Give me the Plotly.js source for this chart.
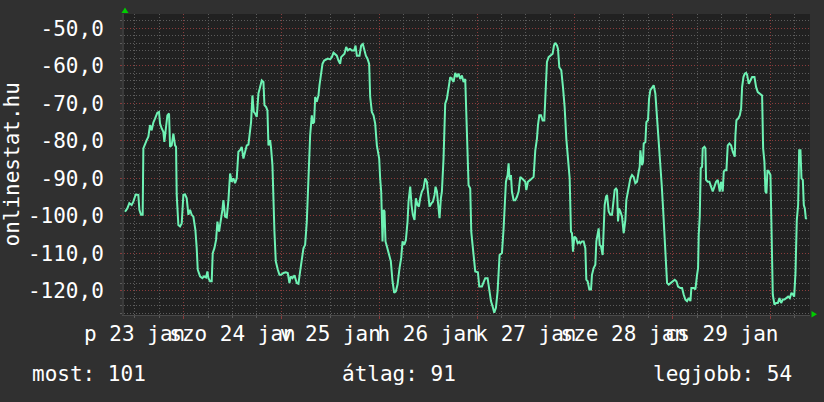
<!DOCTYPE html>
<html>
<head>
<meta charset="utf-8">
<script src="https://cdn.plot.ly/plotly-3.0.1.min.js"></script>
<style>
  html, body { margin: 0; padding: 0; background: #303030; }
  #chart { width: 824px; height: 402px; }
</style>
</head>
<body>
<div id="chart"></div>
<script>
// Time in hours since 23 Jan 00:00
const hours = [
  9.64,10.21,10.70,11.27,11.68,12.26,12.91,13.16,13.56,13.97,14.14,14.55,14.96,15.37,15.77,16.18,16.59,17.00,17.58,17.98,18.23,18.64,19.05,19.29,19.62,20.03,20.44,20.69,21.09,21.50,21.91,22.16,22.32,22.73,23.14,23.55,23.96,24.37,24.78,25.19,25.59,26.00,26.41,26.90,27.23,27.48,28.05,28.62,29.03,29.52,29.85,30.10,30.51,30.91,31.16,31.57,31.98,32.31,32.71,33.20,33.53,33.78,34.19,34.60,35.01,35.42,35.82,36.23,
  36.64,37.05,37.46,37.87,38.28,38.69,39.10,39.51,39.92,40.33,40.57,40.90,41.23,41.55,41.96,42.37,42.78,43.19,43.60,43.85,44.26,44.58,44.83,45.24,45.48,45.81,46.30,46.63,47.12,47.53,47.94,48.51,49.08,49.57,49.98,50.31,50.72,51.21,51.78,52.19,52.60,53.01,53.42,53.83,54.24,54.65,55.06,55.47,55.71,56.04,56.29,56.69,57.10,57.35,57.76,58.09,58.50,58.90,59.40,59.97,60.38,60.79,61.20,61.60,62.01,62.42,62.67,63.08,63.49,63.90,64.31,64.72,
  64.88,65.29,65.86,66.19,66.52,67.17,67.58,67.99,68.32,68.73,69.13,69.54,69.79,70.20,70.61,71.02,71.43,71.67,72.00,72.24,72.49,72.82,73.06,73.31,73.55,73.88,74.45,74.86,75.27,75.68,76.09,76.50,76.99,77.40,77.73,78.14,78.55,78.96,79.20,79.61,79.94,80.26,80.67,81.00,81.41,81.74,82.06,82.47,82.88,83.29,83.70,84.03,84.36,84.85,85.18,85.59,85.83,86.16,86.48,86.81,87.14,87.39,87.79,88.20,88.61,89.02,89.43,89.84,90.25,90.66,91.07,91.48,91.89,92.30,92.70,
  93.11,93.36,93.69,93.93,94.34,94.59,94.91,95.32,95.57,96.22,96.55,97.21,97.62,98.02,98.60,99.01,99.42,99.82,100.23,100.64,101.05,101.54,102.12,102.53,102.77,103.10,103.51,103.75,104.00,104.33,104.57,104.98,105.39,105.80,106.21,106.62,107.03,107.44,107.85,108.09,108.50,109.07,109.48,109.89,110.30,110.71,110.96,111.28,111.69,112.10,112.51,112.76,113.16,113.57,114.15,114.56,114.88,115.21,115.62,115.87,116.19,116.68,117.09,117.50,117.91,118.32,118.73,119.06,119.30,119.55,119.88,120.28,120.69,121.10,
  121.35,121.76,122.17,122.58,122.82,123.15,123.56,123.97,124.21,124.62,125.03,125.28,125.60,125.85,126.10,126.42,126.83,127.08,127.32,127.65,127.90,128.31,128.71,129.12,129.53,129.78,130.11,130.35,130.60,130.84,131.17,131.58,131.99,132.40,132.64,132.97,133.22,133.63,134.03,134.44,134.85,135.26,135.67,135.92,136.08,136.33,136.49,136.74,136.90,137.31,137.55,137.96,138.21,138.53,138.94,139.35,139.76,140.17,140.58,140.99,141.32,141.65,141.97,142.30,142.63,143.04,143.45,144.02,144.51,144.92,145.33,145.90,146.31,146.72,147.13,147.54,147.95,148.36,148.60,149.18,
  149.58,149.99,150.24,150.40,150.65,150.89,151.22,151.38,151.79,152.04,152.20,152.61,153.02,153.43,153.84,154.25,154.66,155.07,155.31,155.56,155.88,156.13,156.29,156.54,156.79,157.19,157.52,157.93,158.34,158.75,158.99,159.24,159.40,159.65,160.06,160.47,160.80,161.04,161.37,161.70,162.02,162.27,162.68,163.09,163.50,164.07,164.48,164.89,165.38,165.95,166.20,166.52,166.77,167.01,167.26,167.59,168.00,168.24,168.57,168.98,169.39,169.80,170.21,170.62,171.03,171.43,171.84,172.33,172.74,173.15,173.56,173.81,174.14,174.46,174.79,175.04,175.36,175.61,175.94,176.18,176.43,176.67,176.92
];
const signal = [
  -98.9,-98.0,-96.6,-97.1,-96.2,-94.3,-94.4,-98.4,-99.7,-99.7,-82.0,-80.7,-79.8,-78.9,-75.8,-77.2,-75.1,-74.1,-72.5,-72.3,-75.4,-76.7,-77.6,-80.3,-77.6,-73.2,-72.7,-81.6,-81.2,-78.1,-81.2,-81.6,-94.4,-102.4,-102.8,-102.0,-94.4,-94.3,-95.3,-99.7,-98.4,-99.7,-100.2,-103.7,-108.6,-114.3,-116.1,-116.6,-116.1,-116.4,-114.8,-116.6,-117.4,-117.4,-109.9,-108.6,-106.4,-101.5,-104.2,-101.1,-98.4,-95.8,-100.2,-100.4,-95.8,-88.7,-90.9,-90.0,
  -91.3,-90.0,-82.9,-82.5,-81.6,-84.7,-82.9,-81.2,-81.0,-77.2,-75.0,-67.9,-72.3,-72.7,-73.6,-67.4,-65.2,-63.9,-64.3,-70.5,-71.0,-71.9,-81.2,-79.8,-82.0,-86.5,-104.2,-112.1,-114.3,-115.7,-115.7,-115.2,-115.0,-115.2,-117.9,-116.1,-116.6,-115.8,-117.9,-118.1,-114.8,-110.8,-108.6,-107.7,-101.5,-90.0,-78.5,-73.2,-75.4,-75.0,-68.3,-69.6,-67.9,-65.2,-61.7,-59.5,-58.6,-58.3,-58.1,-58.3,-57.7,-56.5,-56.8,-57.3,-58.6,-59.5,-57.7,-57.3,-56.8,-55.0,-55.9,-55.5,
  -55.5,-55.9,-55.9,-54.6,-57.3,-57.3,-54.6,-54.2,-55.5,-57.3,-58.1,-59.5,-68.3,-72.3,-73.2,-75.4,-81.2,-82.5,-84.7,-90.0,-93.5,-106.8,-98.4,-98.8,-106.8,-108.1,-110.4,-112.1,-117.4,-120.5,-120.1,-118.3,-113.9,-111.2,-106.8,-107.7,-106.4,-101.5,-96.2,-92.2,-97.1,-99.7,-101.1,-95.3,-97.1,-97.5,-95.3,-93.5,-92.7,-90.0,-90.9,-93.5,-97.5,-96.6,-96.2,-94.4,-92.2,-93.5,-98.0,-100.6,-95.3,-93.5,-84.7,-70.1,-68.8,-66.1,-63.0,-63.5,-64.3,-61.9,-63.0,-62.1,-63.5,-62.6,-64.3,
  -63.5,-71.4,-78.5,-91.8,-92.7,-104.2,-107.7,-112.1,-114.8,-115.0,-118.8,-118.8,-117.9,-116.6,-116.6,-120.1,-122.7,-124.1,-125.8,-124.5,-120.1,-110.4,-109.9,-103.3,-98.8,-90.9,-89.1,-86.0,-90.4,-89.1,-93.5,-95.8,-95.8,-94.9,-93.5,-89.6,-90.0,-90.4,-90.9,-93.1,-90.9,-90.4,-90.0,-89.6,-82.5,-79.4,-75.8,-73.2,-73.2,-74.6,-74.6,-69.2,-59.0,-57.7,-57.3,-56.8,-54.6,-53.9,-54.6,-55.5,-60.4,-61.2,-65.7,-71.0,-79.4,-85.6,-90.0,-104.2,-104.6,-109.5,-105.5,-105.9,-107.3,-106.9,
  -107.3,-106.8,-106.8,-108.6,-117.0,-117.4,-119.6,-119.6,-115.7,-113.9,-113.0,-106.8,-104.2,-103.3,-107.7,-108.1,-110.4,-105.0,-97.1,-94.9,-94.4,-98.8,-99.7,-99.7,-96.2,-93.1,-92.7,-93.1,-101.5,-98.0,-98.8,-100.2,-104.6,-101.1,-95.8,-93.5,-92.7,-90.0,-89.1,-89.6,-91.3,-90.9,-88.2,-86.9,-82.5,-85.1,-86.5,-85.6,-80.7,-80.3,-75.0,-74.5,-68.8,-66.5,-65.7,-65.2,-67.4,-73.2,-80.3,-86.5,-91.8,-98.0,-105.0,-113.0,-117.9,-118.3,-117.9,-117.4,-117.0,-117.4,-118.8,-119.2,-119.2,-121.0,-122.3,-122.7,-121.9,-122.7,-119.2,-119.2,
  -119.6,-115.7,-113.9,-105.0,-100.2,-87.3,-86.9,-82.0,-81.6,-82.0,-90.4,-90.9,-90.9,-92.2,-93.5,-92.2,-90.9,-90.4,-92.7,-93.5,-90.9,-92.7,-93.5,-88.2,-87.8,-87.8,-81.2,-80.7,-81.2,-82.9,-83.8,-84.2,-78.5,-74.5,-74.1,-73.2,-71.4,-65.7,-63.0,-62.1,-61.9,-62.4,-64.8,-63.9,-63.0,-63.0,-65.7,-67.0,-67.4,-67.9,-82.0,-85.6,-93.5,-94.0,-87.8,-88.2,-89.1,-101.5,-121.0,-123.6,-123.2,-123.2,-121.9,-123.2,-122.3,-122.3,-121.9,-121.5,-121.9,-120.5,-121.0,-121.5,-115.2,-101.1,-97.1,-82.5,-82.5,-90.0,-90.4,-97.1,-98.0,-100.6,-100.8
];

const yTickVals = [-120, -110, -100, -90, -80, -70, -60, -50];
const yTickText = ["-120,0", "-110,0", "-100,0", "-90,0", "-80,0", "-70,0", "-60,0", "-50,0"];
const midnights = [24, 48, 72, 96, 120, 144, 168];
const dayNoon = [12, 36, 60, 84, 108, 132, 156];
const dayLabels = ["p 23 jan", "szo 24 jan", "v 25 jan", "h 26 jan", "k 27 jan", "sze 28 jan", "cs 29 jan"];
const yTitle = "onlinestat.hu";
const statTexts = ["most: 101", "átlag: 91", "legjobb: 54"];

const xRange = [9.39, 177.7];
const yRange = [-126.4, -46.2];

const FONT = "DejaVu Sans Mono";
const MAJOR = "#8a3c3c";
const MINOR = "#5c5c5c";
const DOT = "1px,2px";

const traces = [
  {
    x: hours, y: signal, type: "scatter", mode: "lines",
    line: { color: "#6ef2b4", width: 2 },
    hoverinfo: "skip", showlegend: false
  },
  {
    x: dayNoon, y: dayNoon.map(() => null), xaxis: "x2", type: "scatter", mode: "lines",
    hoverinfo: "skip", showlegend: false
  }
];

const layout = {
  width: 824, height: 402,
  paper_bgcolor: "#303030",
  plot_bgcolor: "#212121",
  margin: { l: 124, r: 14, t: 14, b: 87 },
  showlegend: false,
  hovermode: false,
  font: { family: FONT, size: 21, color: "#ffffff" },
  xaxis: {
    range: xRange, fixedrange: true,
    tickmode: "array", tickvals: midnights, showticklabels: false,
    ticks: "outside", ticklen: 3, tickcolor: MAJOR,
    showgrid: true, gridcolor: MAJOR, griddash: DOT, gridwidth: 1,
    minor: { tick0: 0, dtick: 6, showgrid: true, gridcolor: MINOR, griddash: DOT, ticks: "outside", ticklen: 2, tickcolor: MINOR },
    showline: true, linecolor: "#4a4a4a", linewidth: 1,
    zeroline: false
  },
  xaxis2: {
    range: xRange, overlaying: "x", anchor: "y", side: "bottom", fixedrange: true,
    tickmode: "array", tickvals: dayNoon, ticktext: dayLabels,
    tickangle: 0, ticks: "", showgrid: false, zeroline: false, showline: false,
    tickfont: { family: FONT, size: 21, color: "#ffffff" },
    ticklabelstandoff: 4
  },
  yaxis: {
    range: yRange, fixedrange: true,
    tickmode: "array", tickvals: yTickVals, ticktext: yTickText,
    ticks: "outside", ticklen: 2, tickcolor: MAJOR,
    showgrid: true, gridcolor: MAJOR, griddash: DOT, gridwidth: 1,
    minor: { tick0: 0, dtick: 2, showgrid: true, gridcolor: MINOR, griddash: DOT, ticks: "outside", ticklen: 2, tickcolor: MINOR },
    showline: true, linecolor: "#3a3a3a", linewidth: 2,
    zeroline: false,
    tickfont: { family: FONT, size: 21, color: "#ffffff" },
    ticklabelstandoff: 12
  },
  annotations: [
    { text: yTitle, xref: "paper", yref: "paper", x: 0, y: 0.5, xanchor: "center", yanchor: "middle",
      xshift: -113, textangle: -90, showarrow: false, font: { family: FONT, size: 21, color: "#ffffff" } },
    { text: statTexts[0], xref: "paper", yref: "paper", x: 0, y: 0, xanchor: "left", yanchor: "middle",
      xshift: -94, yshift: -59, showarrow: false, font: { family: FONT, size: 21, color: "#ffffff" } },
    { text: statTexts[1], xref: "paper", yref: "paper", x: 0, y: 0, xanchor: "center", yanchor: "middle",
      xshift: 275, yshift: -59, showarrow: false, font: { family: FONT, size: 21, color: "#ffffff" } },
    { text: statTexts[2], xref: "paper", yref: "paper", x: 1, y: 0, xanchor: "right", yanchor: "middle",
      xshift: -16, yshift: -59, showarrow: false, font: { family: FONT, size: 21, color: "#ffffff" } }
  ],
  shapes: [
    { type: "path", xref: "paper", yref: "paper", xsizemode: "pixel", ysizemode: "pixel",
      xanchor: 0, yanchor: 1, path: "M -2.5,1 L 4.5,1 L 1,6.5 Z",
      fillcolor: "#00cc00", line: { width: 0 } },
    { type: "path", xref: "paper", yref: "paper", xsizemode: "pixel", ysizemode: "pixel",
      xanchor: 1, yanchor: 0, path: "M 1.5,4 L 1.5,-2.5 L 7,0.75 Z",
      fillcolor: "#00cc00", line: { width: 0 } }
  ]
};

Plotly.newPlot("chart", traces, layout, { displayModeBar: false, staticPlot: true });
</script>
</body>
</html>
